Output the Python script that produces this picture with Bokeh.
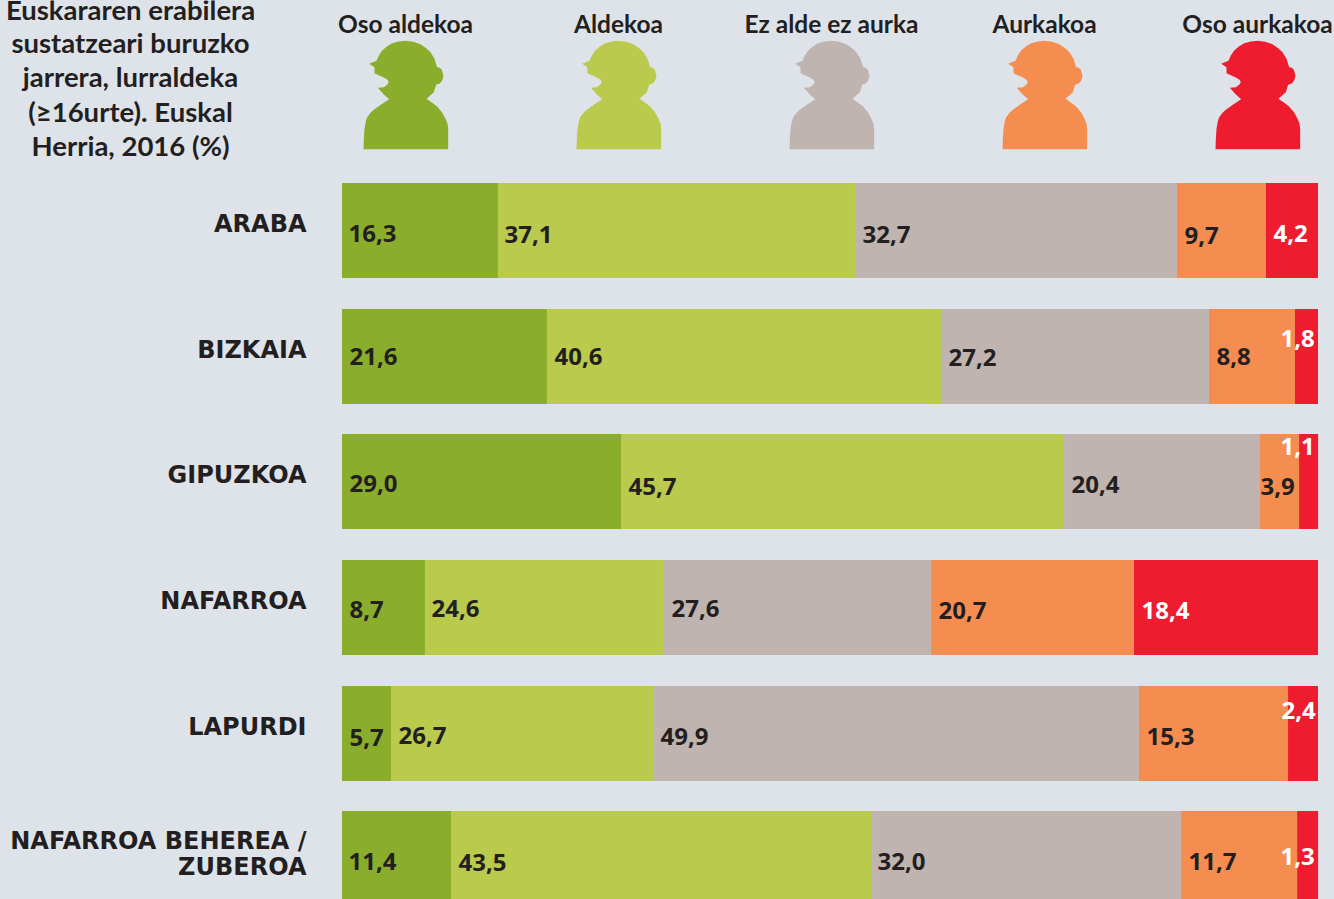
from bokeh.plotting import figure
from bokeh.models import Range1d
from bokeh.core.properties import value
from bokeh.embed import file_html
from bokeh.resources import INLINE

# ---- data -----------------------------------------------------------
regions = ["ARABA", "BIZKAIA", "GIPUZKOA", "NAFARROA", "LAPURDI", "NAFARROA BEHEREA /\nZUBEROA"]
attitudes = ["Oso aldekoa", "Aldekoa", "Ez alde ez aurka", "Aurkakoa", "Oso aurkakoa"]
title_lines = ["Euskararen erabilera", "sustatzeari buruzko", "jarrera, lurraldeka", "(≥16urte). Euskal", "Herria, 2016 (%)"]

# printed labels
oso_aldekoa_txt = ["16,3", "21,6", "29,0", "8,7", "5,7", "11,4"]
aldekoa_txt = ["37,1", "40,6", "45,7", "24,6", "26,7", "43,5"]
neutroa_txt = ["32,7", "27,2", "20,4", "27,6", "49,9", "32,0"]
aurkakoa_txt = ["9,7", "8,8", "3,9", "20,7", "15,3", "11,7"]
oso_aurkakoa_txt = ["4,2", "1,8", "1,1", "18,4", "2,4", "1,3"]

# segment lengths as actually drawn in the picture (% of bar)
oso_aldekoa = [15.98, 21.00, 28.59, 8.50, 5.02, 11.17]
aldekoa = [36.68, 40.37, 45.39, 24.49, 26.95, 43.14]
neutroa = [32.89, 27.46, 20.08, 27.36, 49.69, 31.66]
aurkakoa = [9.12, 8.81, 4.00, 20.80, 15.27, 11.89]
oso_aurkakoa = [5.33, 2.36, 1.95, 18.85, 3.07, 2.15]

# ---- layout ----------------------------------------------------------
W, H = 1334, 899
X0, PX_PER_UNIT = 341.5, 9.76
Y0, PITCH = 230.0, 125.6
BAR_H = 95 / PITCH
row_tops = [183, 309, 434, 560, 686, 811]

def dx(px):
    return (px - X0) / PX_PER_UNIT

def dy(py):
    return (py - Y0) / PITCH

colors = ["#8aad2b", "#b9ca4d", "#bfb4b0", "#f68d50", "#ee1c2e"]
bg = "#dee3ea"
ink = "#231f20"

p = figure(width=W, height=H, x_range=Range1d(dx(0), dx(W)), y_range=Range1d(dy(H), dy(0)),
           output_backend="svg", toolbar_location=None, min_border=0,
           background_fill_color=bg, border_fill_color=bg, outline_line_color=None)
p.styles = {"position": "fixed", "left": "0px", "top": "0px", "background-color": bg}
p.xaxis.visible = False
p.yaxis.visible = False
p.grid.visible = False

# ---- bars ------------------------------------------------------------
series = [oso_aldekoa, aldekoa, neutroa, aurkakoa, oso_aurkakoa]
rows = [(t - row_tops[0]) / PITCH for t in row_tops]
left = [0.0] * len(regions)
for vals, col in zip(series, colors):
    right = [a + b for a, b in zip(left, vals)]
    p.hbar(y=rows, left=left, right=right, height=BAR_H, fill_color=col, line_color=None)
    left = right

# ---- value labels ----------------------------------------------------
label_px = [
    ([348, 349, 349, 349, 349, 348], [233, 356, 483, 609, 737, 861], oso_aldekoa_txt, ink),
    ([504, 554, 628, 431, 398, 458], [234, 356, 486, 608, 735, 862], aldekoa_txt, ink),
    ([862, 948, 1071, 671, 660, 877], [234, 357, 484, 608, 736, 861], neutroa_txt, ink),
    ([1184, 1216, 1260, 938, 1146, 1188], [235, 356, 486, 610, 736, 861], aurkakoa_txt, ink),
    ([1273, 1280, 1280, 1141, 1281, 1280], [233, 338, 446, 610, 710, 856], oso_aurkakoa_txt, "#ffffff"),
]
for xs, ys, txt, col in label_px:
    p.text(x=[dx(v) for v in xs], y=[dy(v) for v in ys], text=txt, text_color=col,
           text_font=value("Open Sans"), text_font_style="bold", text_font_size="24px",
           text_align="left", text_baseline="middle")

# ---- region labels ---------------------------------------------------
row_names = [r.split("\n") for r in regions]
for t, parts in zip(row_tops, row_names):
    ys = [t + 40] if len(parts) == 1 else [840, 866]
    p.text(x=[dx(306)] * len(parts), y=[dy(v) for v in ys], text=parts, text_color=ink,
           text_font=value("DejaVu Sans"), text_font_style="bold", text_font_size="24px",
           text_align="right", text_baseline="middle")

# ---- title -----------------------------------------------------------
p.text(x=[dx(130)] * 5, y=[dy(v) for v in [9, 42, 76, 111, 145]], text=title_lines, text_color=ink,
       text_font=value("Lato"), text_font_style="bold", text_font_size="27.5px",
       text_align="center", text_baseline="middle")

# ---- column headers and icons ------------------------------------------
head_px = [405, 618, 831, 1044, 1257]
p.text(x=[dx(v) for v in head_px], y=[dy(23)] * 5, text=attitudes, text_color=ink,
       text_font=value("Lato"), text_font_style="bold", text_font_size="24.5px",
       text_align="center", text_baseline="middle")

icon_shape = [
    (69, 446), (70, 415), (72, 385), (76, 362), (80, 350), (90, 337), (100, 328), (122, 312), (146, 296),
    (130, 282), (112, 262), (130, 260), (140, 253), (145, 245), (141, 238), (130, 231), (115, 224), (102, 218),
    (102, 200), (86, 190), (108, 181), (115, 165), (125, 150), (140, 137), (155, 128), (175, 123), (195, 121),
    (218, 124), (240, 131), (257, 143), (270, 155), (282, 175), (290, 200), (298, 202), (304, 208), (309, 226),
    (305, 240), (298, 249), (287, 253), (280, 275), (258, 295), (275, 307), (290, 318), (305, 336), (315, 355),
    (321, 370), (323, 385), (323, 446),
]
for hx, col in zip(head_px, colors):
    off = hx - 405
    p.patch(x=[dx(340 + a / 3 + off) for a, b in icon_shape], y=[dy(b / 3) for a, b in icon_shape],
            fill_color=col, line_color=None)

open("out.html", "w").write(file_html(p, INLINE))
